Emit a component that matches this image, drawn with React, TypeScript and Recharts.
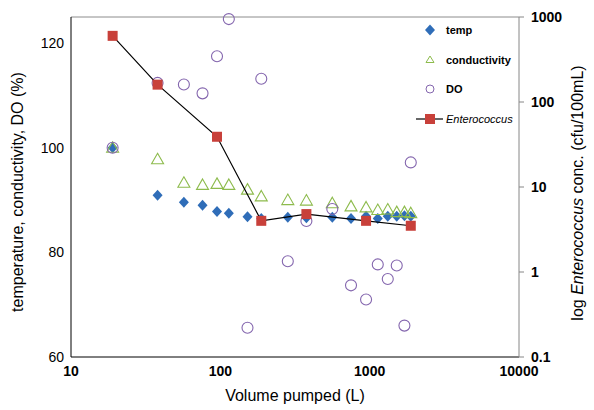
import { FC } from "react";
import {
  ComposedChart,
  Scatter,
  XAxis,
  YAxis,
  Legend,
  Label,
  ReferenceLine,
} from "recharts";

// volume pumped (L) for the temp / conductivity / DO readings
const volume = [19, 38, 57, 76, 95, 114, 152, 188, 283, 377, 562, 750, 946, 1133, 1322, 1518, 1709, 1885];
const temp = [100, 90.9, 89.6, 89.0, 87.8, 87.5, 86.8, 86.5, 86.7, 86.6, 86.7, 86.5, 86.9, 86.5, 86.9, 86.9, 87.0, 86.9];
const conductivity = [100, 97.8, 93.3, 92.9, 93.1, 92.9, 92.0, 90.7, 90.0, 89.9, 89.4, 88.8, 88.6, 88.1, 88.2, 87.7, 87.7, 87.5];
const dissolvedOxygen = [100, 112.4, 112.1, 110.4, 117.5, 124.6, 65.6, 113.2, 78.3, 86.0, 88.3, 73.7, 71.0, 77.7, 74.9, 77.5, 66.0, 97.2];

// Enterococcus samples (cfu/100mL)
const enteroVolume = [19, 38, 95, 188, 377, 946, 1885];
const enterococcus = [600, 160, 39, 4.0, 4.8, 4.0, 3.5];

const xTicks = [10, 100, 1000, 10000];
const leftTicks = [60, 80, 100, 120];
const rightTicks = [0.1, 1, 10, 100, 1000];

const FONT = "'Liberation Sans', Arial, sans-serif";
const BLUE = "#2F6DB8";
const GREEN = "#8DBB4C";
const PURPLE = "#8466AE";
const RED = "#C8403A";

const toPoints = (xs: number[], ys: number[]) => xs.map((x, i) => ({ x, y: ys[i] }));

const tempData = toPoints(volume, temp);
const condData = toPoints(volume, conductivity);
const doData = toPoints(volume, dissolvedOxygen);
const enteroData = toPoints(enteroVolume, enterococcus);

const Diamond = ({ cx, cy }: any) => (
  <path d={`M${cx},${cy - 5.5}L${cx + 5},${cy}L${cx},${cy + 5.5}L${cx - 5},${cy}Z`} fill={BLUE} />
);
const Triangle = ({ cx, cy }: any) => (
  <path
    d={`M${cx},${cy - 6}L${cx + 6},${cy + 4.5}L${cx - 6},${cy + 4.5}Z`}
    fill="none"
    stroke={GREEN}
    strokeWidth={1.1}
  />
);
const Circle = ({ cx, cy }: any) => (
  <circle cx={cx} cy={cy} r={5.5} fill="none" stroke={PURPLE} strokeWidth={1.1} />
);
const Square = ({ cx, cy }: any) => <rect x={cx - 5} y={cy - 5} width={10} height={10} fill={RED} />;

const LegendBox = () => (
  <svg width={110} height={115} style={{ fontFamily: FONT }}>
    <Diamond cx={20} cy={12} />
    <text x={36} y={16} fontSize={11} fontWeight="bold">temp</text>
    <path d="M20,38L24,44.5L16,44.5Z" fill="none" stroke={GREEN} />
    <text x={36} y={46} fontSize={11} fontWeight="bold">conductivity</text>
    <circle cx={20} cy={71} r={4} fill="none" stroke={PURPLE} />
    <text x={36} y={75} fontSize={11} fontWeight="bold">DO</text>
    <line x1={6} y1={101} x2={33} y2={101} stroke="#000" strokeWidth={1.2} />
    <rect x={15} y={96} width={10} height={10} fill={RED} />
    <text x={36} y={105} fontSize={11} fontStyle="italic">Enterococcus</text>
  </svg>
);

const App: FC = () => {
  return (
    <div style={{ position: "absolute", left: 0, top: 0 }}>
      <ComposedChart width={594} height={410} margin={{ top: 17, right: 20, bottom: 23, left: 11 }}>
        <XAxis
          type="number"
          dataKey="x"
          scale="log"
          domain={[10, 10000]}
          ticks={xTicks}
          tickLine={false}
          tickSize={0}
          tickMargin={9}
          axisLine={{ stroke: "#000" }}
          height={30}
          tick={{ fill: "#000", fontSize: 14, fontWeight: "bold", fontFamily: FONT }}
        >
          <Label
            content={() => (
              <text x={295} y={401} textAnchor="middle" fontSize={16} fontFamily={FONT} fill="#000">
                Volume pumped (L)
              </text>
            )}
          />
        </XAxis>
        <YAxis
          yAxisId="left"
          type="number"
          dataKey="y"
          domain={[60, 125]}
          ticks={leftTicks}
          tickLine={false}
          tickSize={0}
          tickMargin={7}
          axisLine={{ stroke: "#000" }}
          width={60}
          tick={{ fill: "#000", fontSize: 14, fontFamily: FONT }}
        >
          <Label
            content={() => (
              <text
                x={23}
                y={192}
                transform="rotate(-90 23 192)"
                textAnchor="middle"
                fontSize={16}
                fontFamily={FONT}
                fill="#000"
              >
                temperature, conductivity, DO (%)
              </text>
            )}
          />
        </YAxis>
        <YAxis
          yAxisId="right"
          orientation="right"
          type="number"
          dataKey="y"
          scale="log"
          domain={[0.1, 1000]}
          ticks={rightTicks}
          tickSize={5}
          tickMargin={7}
          tickLine={{ stroke: "#868686" }}
          axisLine={{ stroke: "#868686" }}
          width={55}
          tick={{ fill: "#000", fontSize: 14, fontWeight: "bold", fontFamily: FONT }}
        >
          <Label
            content={() => (
              <text
                x={583}
                y={193}
                transform="rotate(-90 583 193)"
                textAnchor="middle"
                fontSize={16}
                fontFamily={FONT}
                fill="#000"
              >
                log <tspan fontStyle="italic">Enterococcus</tspan> conc. (cfu/100mL)
              </text>
            )}
          />
        </YAxis>
        <ReferenceLine yAxisId="left" y={125} stroke="#8c8c8c" />
        <Legend
          layout="vertical"
          align="center"
          verticalAlign="middle"
          content={() => <LegendBox />}
          wrapperStyle={{ left: 410, top: 18, width: 110, height: 115 }}
        />
        <Scatter yAxisId="left" name="temp" data={tempData} shape={<Diamond />} isAnimationActive={false} />
        <Scatter yAxisId="left" name="conductivity" data={condData} shape={<Triangle />} isAnimationActive={false} />
        <Scatter yAxisId="left" name="DO" data={doData} shape={<Circle />} isAnimationActive={false} />
        <Scatter
          yAxisId="right"
          name="Enterococcus"
          data={enteroData}
          shape={<Square />}
          line={{ stroke: "#000", strokeWidth: 1.2 }}
          isAnimationActive={false}
        />
      </ComposedChart>
    </div>
  );
};

export default App;
